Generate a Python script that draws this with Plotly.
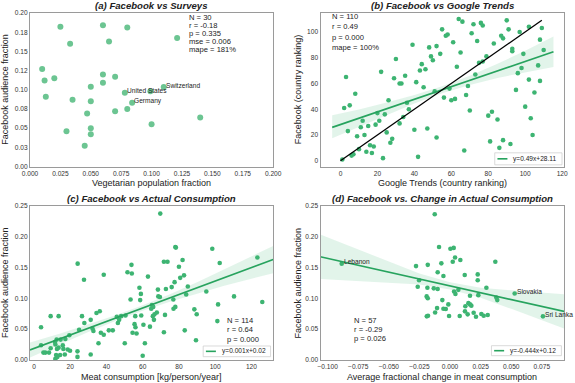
import plotly.graph_objects as go

# ---- data ------------------------------------------------------------------
# (a) Facebook vs Surveys -- first three points are the labelled countries
veg_frac = [0.078, 0.084, 0.110, 0.025, 0.060, 0.080, 0.121, 0.033, 0.065, 0.010,
            0.012, 0.020, 0.060, 0.070, 0.060, 0.050, 0.099, 0.013, 0.035, 0.050,
            0.080, 0.070, 0.047, 0.140, 0.100, 0.050, 0.030, 0.050, 0.045]
fb_frac_a = [0.096, 0.083, 0.1035, 0.182, 0.184, 0.181, 0.1675, 0.160, 0.163, 0.127,
             0.112, 0.115, 0.120, 0.117, 0.109, 0.104, 0.098, 0.091, 0.087, 0.085,
             0.075, 0.072, 0.069, 0.064, 0.055, 0.050, 0.046, 0.042, 0.027]
a_names = ["United States", "Germany", "Switzerland"]
a_stats = ["N = 30", "r = -0.18", "p = 0.335", "mse = 0.006", "mape = 181%"]
a_yticks = [0, 0.025, 0.05, 0.075, 0.1, 0.125, 0.15, 0.175, 0.2]
a_yticktext = ["0.00", "0.03", "0.05", "0.08", "0.10", "0.12", "0.15", "0.18", "0.20"]

# (b) Facebook vs Google Trends
gt_rank = [55, 39, 48, 52, 49, 50, 44, 30, 43, 46, 22, 3, 29, 35, 32, 33, 41, 45, 8, 26,
           36, 51, 2, 5, 37, 20, 24, 12, 21, 11, 15, 19, 34, 32, 4, 40, 47, 25, 9, 13,
           28, 27, 52, 16, 18, 14, 17, 10, 6, 7, 1, 23, 42,
           64, 66, 72, 76, 77, 90, 102, 109, 91, 97, 58, 57, 71, 87, 88, 61, 74, 83, 108, 110,
           93, 93, 99, 65, 79, 54, 63, 75, 77, 73, 96, 98, 107, 102, 108, 95, 105, 59, 56, 60,
           62, 68, 69, 70, 80, 82, 85, 100, 103, 104, 67, 81, 86, 88, 92]
fb_rank = [102, 90, 88, 89, 81, 78, 75, 79, 70, 71, 69, 65, 64, 66, 60, 60, 61, 57, 52, 47,
           45, 54, 41, 43, 40, 37, 36, 31, 31, 26, 27, 28, 34, 29, 23, 24, 25, 22, 19, 20,
           17, 14, 18, 12, 11, 7, 6, 9, 4, 5, 1, 2, 3,
           110, 108, 106, 107, 105, 109, 104, 103, 102, 100, 98, 97, 99, 97, 95, 92, 93, 91, 94, 86,
           87, 85, 83, 84, 81, 83, 73, 76, 77, 67, 68, 72, 74, 63, 62, 55, 53, 56, 49, 47,
           48, 51, 58, 39, 35, 38, 32, 42, 33, 20, 8, 15, 10, 16, 13]
b_fit = (0.49, 28.11)
b_fit_x = [-4.5, 115.3]
b_band_x = [-4.5, 10, 25, 40, 55, 70, 85, 100, 115.3]
b_band_lo = [17.5, 26.2, 35.6, 44.4, 52.3, 58.8, 64.3, 68.8, 72.8]
b_band_hi = [35.4, 39.8, 45.2, 51.0, 57.9, 66.0, 75.3, 85.4, 96.4]
b_diag = [0, 109]
b_stats = ["N = 110", "r = 0.49", "p = 0.000", "mape = 100%"]
b_legend = "y=0.49x+28.11"

# (c) Facebook vs Actual Consumption
meat = [3.9, 3.9, 5.2, 6.3, 8.3, 9.2, 9.2, 11.6, 11.8, 11.8,
        12.2, 12.5, 12.7, 12.9, 13.6, 13.6, 14.4, 14.7, 15.9, 16.2,
        17.0, 17.3, 18.6, 19.5, 19.9, 24.0, 24.0, 24.1, 24.9, 26.5,
        27.6, 27.8, 31.3, 31.3, 32.3, 32.8, 34.5, 35.6, 36.3, 36.9,
        38.5, 38.5, 41.3, 43.5, 45.7, 46.3, 47.0, 48.1, 50.1, 50.5,
        51.6, 53.3, 53.8, 54.0, 55.5, 54.4, 55.9, 56.0, 56.6, 58.2,
        58.6, 59.0, 59.2, 60.0, 60.4, 61.2, 62.9, 64.0, 64.7, 65.1,
        65.8, 65.6, 66.5, 66.2, 67.8, 68.4, 68.6, 69.5, 69.7, 71.7,
        71.7, 72.3, 72.8, 73.7, 76.0, 76.9, 77.0, 77.6, 78.0, 78.0,
        78.3, 80.0, 80.7, 82.0, 82.8, 83.2, 84.0, 84.9, 88.5, 89.8,
        89.4, 95.1, 98.4, 101.2, 101.6, 102.5, 110.4, 123.3, 126.0]
fb_frac_c = [0.053, 0.024, 0.012, 0.012, 0.012, 0.071, 0.019, 0.029, 0.025, 0.002,
             0.008, 0.033, 0.018, 0.005, 0.071, 0.020, 0.008, 0.033, 0.024, 0.018,
             0.009, 0.034, 0.017, 0.040, 0.015, 0.014, 0.005, 0.156, 0.049, 0.071,
             0.130, 0.060, 0.065, 0.009, 0.051, 0.047, 0.076, 0.027, 0.079, 0.044,
             0.138, 0.041, 0.048, 0.048, 0.070, 0.060, 0.065, 0.071, 0.027, 0.072,
             0.142, 0.098, 0.154, 0.140, 0.058, 0.044, 0.071, 0.053, 0.043, 0.117,
             0.097, 0.107, 0.072, 0.007, 0.057, 0.027, 0.135, 0.054, 0.083, 0.089,
             0.086, 0.071, 0.074, 0.065, 0.077, 0.114, 0.103, 0.102, 0.237, 0.159,
             0.045, 0.073, 0.115, 0.159, 0.118, 0.098, 0.083, 0.126, 0.086, 0.183,
             0.182, 0.151, 0.133, 0.162, 0.137, 0.048, 0.106, 0.119, 0.082, 0.074,
             0.032, 0.111, 0.180, 0.063, 0.090, 0.157, 0.103, 0.166, 0.094]
c_fit = (0.00109, 0.0187)
c_band_x = [-2.2, 15, 30, 45, 60, 75, 90, 105, 120, 132]
c_band_lo = [0.004, 0.0265, 0.0454, 0.0633, 0.0796, 0.0945, 0.1078, 0.1202, 0.1315, 0.1406]
c_band_hi = [0.0283, 0.0435, 0.0574, 0.0723, 0.0886, 0.1065, 0.1258, 0.1462, 0.1675, 0.1846]
c_stats = ["N = 114", "r = 0.64", "p = 0.000"]
c_legend = "y=0.001x+0.02"

# (d) Facebook vs change in consumption -- first three points are labelled
meat_change = [-0.0885, 0.0528, 0.0759, -0.0125, -0.009, 0.0003, 0.003, 0.0041, 0.0084, 0.0022,
               -0.0071, -0.0182, -0.0278, 0.037, -0.0101, -0.0054, 0.012, 0.0226, 0.0226, -0.0253,
               -0.0264, -0.0185, -0.0133, -0.0101, 0.0033, 0.0044, 0.0068, 0.0297, 0.0163, 0.0231,
               0.0378, 0.0386, -0.0191, -0.0182, -0.0063, -0.0014, -0.0106, -0.0122, -0.0054, -0.0035,
               -0.018, -0.019, -0.0008, 0.0079, 0.0125, 0.015, 0.0163, 0.0174, 0.0122, 0.0144,
               0.0193, 0.0212, 0.0256, 0.0275, 0.0308]
fb_frac_d = [0.156, 0.1076, 0.0707, 0.236, 0.183, 0.180, 0.1815, 0.166, 0.162, 0.159,
             0.1565, 0.154, 0.152, 0.159, 0.142, 0.136, 0.1375, 0.1386, 0.129, 0.129,
             0.1185, 0.117, 0.116, 0.115, 0.111, 0.107, 0.1136, 0.117, 0.104, 0.105,
             0.101, 0.097, 0.103, 0.100, 0.097, 0.090, 0.084, 0.077, 0.083, 0.0826,
             0.0717, 0.0707, 0.0712, 0.0712, 0.087, 0.092, 0.090, 0.088, 0.0788, 0.0739,
             0.0766, 0.0701, 0.0745, 0.0717, 0.0728]
d_names = ["Lebanon", "Slovakia", "Sri Lanka"]
d_fit = (-0.444, 0.12)
d_band_x = [-0.106, -0.08, -0.05, -0.025, 0.0, 0.025, 0.05, 0.075, 0.0935]
d_band_lo = [0.131, 0.1285, 0.1252, 0.1221, 0.114, 0.1009, 0.0828, 0.0647, 0.0505]
d_band_hi = [0.203, 0.1825, 0.1592, 0.1401, 0.126, 0.1169, 0.1128, 0.1087, 0.1065]
d_stats = ["N = 57", "r = -0.29", "p = 0.026"]
d_legend = "y=-0.444x+0.12"

titles = ["(a) Facebook vs Surveys", "(b) Facebook vs Google Trends",
          "(c) Facebook vs Actual Consumption", "(d) Facebook vs. Change in Actual Consumption"]

# ---- style / layout --------------------------------------------------------
W, H = 575, 383
ML, MR, MT, MB = 30, 10.7, 13.3, 23
FONT = "Liberation Sans, Arial, sans-serif"
GREEN = "#3db472"
GREEN_A = "#6cc592"
LINE = "#27a35e"
BAND = "rgba(60,179,113,0.15)"


def fx(p):
    return (p - ML) / (W - ML - MR)


def fy(p):
    return (H - MB - p) / (H - MT - MB)


def fit_y(fit, xs):
    return [fit[0] * v + fit[1] for v in xs]


def band(xs, lo, hi, xa, ya):
    return go.Scatter(x=xs + xs[::-1], y=lo + hi[::-1], fill="toself", fillcolor=BAND,
                      line_width=0, mode="lines", hoverinfo="skip", showlegend=False,
                      xaxis=xa, yaxis=ya)


def dots(x, y, xa, ya, color=GREEN, size=4.6):
    return go.Scatter(x=x, y=y, mode="markers", showlegend=False, xaxis=xa, yaxis=ya,
                      marker=dict(color=color, size=size, line_width=0))


def fit_line(xs, fit, name, xa, ya):
    return go.Scatter(x=xs, y=fit_y(fit, xs), mode="lines", name=name, showlegend=False,
                      line=dict(color=LINE, width=1.6), xaxis=xa, yaxis=ya)


fig = go.Figure()

# (a)
fig.add_trace(dots(veg_frac, fb_frac_a, "x", "y", color=GREEN_A, size=6))

# (b)
fig.add_trace(band(b_band_x, b_band_lo, b_band_hi, "x2", "y2"))
fig.add_trace(dots(gt_rank, fb_rank, "x2", "y2"))
fig.add_trace(fit_line(b_fit_x, b_fit, b_legend, "x2", "y2"))
fig.add_trace(go.Scatter(x=b_diag, y=b_diag, mode="lines", showlegend=False,
                         line=dict(color="black", width=1.3), xaxis="x2", yaxis="y2"))

# (c)
fig.add_trace(band(c_band_x, c_band_lo, c_band_hi, "x3", "y3"))
fig.add_trace(dots(meat, fb_frac_c, "x3", "y3"))
fig.add_trace(fit_line([c_band_x[0], c_band_x[-1]], c_fit, c_legend, "x3", "y3"))

# (d)
fig.add_trace(band(d_band_x, d_band_lo, d_band_hi, "x4", "y4"))
fig.add_trace(dots(meat_change, fb_frac_d, "x4", "y4"))
fig.add_trace(fit_line([d_band_x[0], d_band_x[-1]], d_fit, d_legend, "x4", "y4"))

axis = dict(showgrid=False, zeroline=False, showline=True, mirror=True, linecolor="#9a9a9a",
            linewidth=1.2, ticks="", automargin=False,
            tickfont=dict(family=FONT, size=6.6, color="#333"))
left = [fx(30), fx(273.3)]
right = [fx(320.7), fx(564.3)]
top = [fy(166.7), fy(13.3)]
bottom = [fy(360), fy(205.7)]

fig.update_layout(
    width=W, height=H, margin=dict(l=ML, r=MR, t=MT, b=MB),
    paper_bgcolor="white", plot_bgcolor="white", showlegend=False, hovermode=False,
    font=dict(family=FONT, color="#222"),
    xaxis=dict(axis, domain=left, anchor="y", range=[0, 0.2], tickvals=a_yticks, tickformat=".3f"),
    yaxis=dict(axis, domain=top, anchor="x", range=[0, 0.2], tickvals=a_yticks, ticktext=a_yticktext),
    xaxis2=dict(axis, domain=right, anchor="y2", range=[-10.8, 121], dtick=20, tick0=0),
    yaxis2=dict(axis, domain=top, anchor="x2", range=[-4.5, 114.7], dtick=20, tick0=0),
    xaxis3=dict(axis, domain=left, anchor="y3", range=[-2.2, 132], dtick=20, tick0=0),
    yaxis3=dict(axis, domain=bottom, anchor="x3", range=[0, 0.25], dtick=0.05, tickformat=".2f"),
    xaxis4=dict(axis, domain=right, anchor="y4", range=[-0.1058, 0.0931], dtick=0.025,
                tick0=0, tickformat=".3f"),
    yaxis4=dict(axis, domain=bottom, anchor="x4", range=[0, 0.25], dtick=0.05, tickformat=".2f"),
)


def note(text, xp, yp, size, xanchor="center", yanchor="middle", **kw):
    fig.add_annotation(text=text, x=fx(xp), y=fy(yp), xref="paper", yref="paper",
                       xanchor=xanchor, yanchor=yanchor, showarrow=False,
                       font=dict(family=FONT, size=size, color="#222"), **kw)


# panel titles
for t, xp, yp in zip(titles, [151.7, 442.5, 151.4, 442.5], [6, 6, 199, 199]):
    note("<b><i>%s</i></b>" % t, xp, yp, 9.6)

# axis titles
for t, xp, yp in zip(["Vegetarian population fraction", "Google Trends (country ranking)",
                      "Meat consumption [kg/person/year]",
                      "Average fractional change in meat consumption"],
                     [151.7, 442.5, 151.4, 442.5], [183.3, 183.3, 376.7, 376.7]):
    note(t, xp, yp, 9)
for t, xp, yp in zip(["Facebook audience fraction", "Facebook (country ranking)",
                      "Facebook audience fraction", "Facebook audience fraction"],
                     [5, 297.7, 5, 297.7], [90, 90, 283, 283]):
    note(t, xp, yp, 9, textangle=-90)

# statistics blocks
for lines, xp, y0, step in [(a_stats, 187.5, 17.3, 8.0), (b_stats, 330.3, 16.7, 10.3),
                            (c_stats, 225.3, 320.7, 9.2), (d_stats, 352, 321, 9.0)]:
    for i, t in enumerate(lines):
        note(t, xp, y0 + i * step, 7.6, xanchor="left")

# legends: framed box, line sample and fitted equation
for label, x0, x1, y0, y1 in [(b_legend, 495, 562.3, 153, 165),
                              (c_legend, 203.3, 270.7, 346, 356.7),
                              (d_legend, 491.7, 561.7, 345.7, 355.7)]:
    fig.add_shape(type="rect", xref="paper", yref="paper", x0=fx(x0), x1=fx(x1),
                  y0=fy(y1), y1=fy(y0), fillcolor="white",
                  line=dict(color="#d0d0d0", width=0.8))
    ym = (y0 + y1) / 2
    fig.add_shape(type="line", xref="paper", yref="paper", x0=fx(x0 + 2.7), x1=fx(x0 + 12.7),
                  y0=fy(ym), y1=fy(ym), line=dict(color=LINE, width=1.6))
    note(label, x0 + 16.5, ym, 6.6, xanchor="left")

# country labels
for name, xv, yv in zip(a_names, veg_frac, fb_frac_a):
    fig.add_annotation(text=name, x=xv, y=yv, xref="x", yref="y", showarrow=False,
                       xanchor="left", yanchor="middle", yshift=2,
                       font=dict(family=FONT, size=6.6, color="#222"))
for name, xv, yv in zip(d_names, meat_change, fb_frac_d):
    fig.add_annotation(text=name, x=xv, y=yv, xref="x4", yref="y4", showarrow=False,
                       xanchor="left", yanchor="middle", yshift=2,
                       font=dict(family=FONT, size=6.6, color="#222"))

# drop the browser's default page margin so the figure sits at the top-left corner
fig.write_html("out.html", config={"displayModeBar": False},
               post_script="document.body.style.margin='0';document.body.style.overflow='hidden';")
